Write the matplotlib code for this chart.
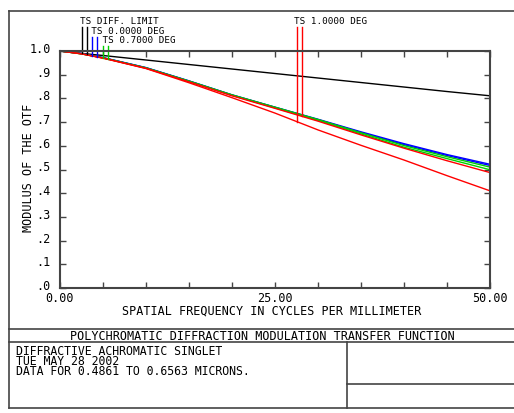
import numpy as np
import matplotlib
matplotlib.use('Agg')
import matplotlib.pyplot as plt
from matplotlib.lines import Line2D
from matplotlib.transforms import ScaledTranslation

# spatial frequency (cycles/mm) and MTF values
freq = [0, 2.5, 5, 10, 15, 20, 25, 30, 35, 40, 45, 50]
diff_limit = [1.0, 0.990, 0.981, 0.962, 0.943, 0.924, 0.905, 0.886, 0.867, 0.848, 0.829, 0.811]
ts0_t = [1.0, 0.989, 0.972, 0.930, 0.874, 0.815, 0.763, 0.712, 0.659, 0.609, 0.563, 0.522]
ts0_s = [1.0, 0.989, 0.972, 0.929, 0.873, 0.814, 0.762, 0.710, 0.656, 0.605, 0.559, 0.517]
ts07_t = [1.0, 0.988, 0.971, 0.929, 0.873, 0.815, 0.763, 0.711, 0.655, 0.601, 0.554, 0.510]
ts07_s = [1.0, 0.988, 0.971, 0.928, 0.872, 0.813, 0.760, 0.707, 0.650, 0.594, 0.546, 0.499]
ts1_s = [1.0, 0.988, 0.970, 0.927, 0.870, 0.811, 0.758, 0.704, 0.646, 0.590, 0.537, 0.487]
ts1_t = [1.0, 0.988, 0.970, 0.926, 0.866, 0.803, 0.738, 0.667, 0.602, 0.540, 0.474, 0.410]

# label pointers: colour, pointer freqs, curves they land on, top of pointer
pointers = [
    ('black', (2.56, 3.14), (diff_limit, diff_limit), 1.101),
    ('blue', (3.72, 4.30), (ts0_t, ts0_s), 1.059),
    ('#00d000', (5.00, 5.58), (ts07_t, ts07_s), 1.021),
    ('red', (27.56, 28.14), (ts1_t, ts1_s), 1.101),
]
# stacked labels share one text block (offset by leading spaces)
left_labels = ['TS DIFF. LIMIT', '  TS 0.0000 DEG', '    TS 0.7000 DEG']
right_label = 'TS 1.0000 DEG'
info_lines = ['DIFFRACTIVE ACHROMATIC SINGLET', 'TUE MAY 28 2002',
              'DATA FOR 0.4861 TO 0.6563 MICRONS.']
title = 'POLYCHROMATIC DIFFRACTION MODULATION TRANSFER FUNCTION'

W, H = 514, 414
mono = 'DejaVu Sans Mono'
fs = 8.5
fs_small = 6.7

fig = plt.figure(figsize=(W / 100, H / 100), dpi=100)
renderer = fig.canvas.get_renderer()

def fx(px):
    return px / W

def fy(py):
    return 1 - py / H

def hline(x0, x1, y, lw=1.2, c='#444444'):
    fig.add_artist(Line2D([fx(x0), fx(x1)], [fy(y), fy(y)], color=c, lw=lw))

def vline(x, y0, y1, lw=1.2, c='#444444'):
    fig.add_artist(Line2D([fx(x), fx(x)], [fy(y0), fy(y1)], color=c, lw=lw))

def block(x, y_mid, lines, gap, size):
    # multi-line text, line pitch tuned to `gap` pixels
    t = fig.text(fx(x), fy(y_mid), '\n'.join(lines), ha='left', va='center',
                 family=mono, fontsize=size)
    n = len(lines)
    one = fig.text(0, 0, lines[0], family=mono, fontsize=size)
    h1 = one.get_window_extent(renderer).height
    one.remove()
    pitch = []
    for ls in (0.8, 1.2):
        t.set_linespacing(ls)
        pitch.append((t.get_window_extent(renderer).height - h1) / (n - 1))
    slope = (pitch[1] - pitch[0]) / 0.4
    t.set_linespacing(0.8 + (gap - pitch[0]) / slope)
    return t

# frame and title block
hline(9, 520, 12)
hline(9, 520, 409)
vline(9, 12, 409)
hline(9, 520, 330)
hline(9, 520, 343)
vline(347, 343, 409)
hline(347, 520, 385)

fig.text(fx(262), fy(337), title, ha='center', va='center', family=mono, fontsize=fs)
block(16, 361.5, info_lines, 9.6, 8.3)

ax = fig.add_axes([fx(60), fy(289), fx(430), 237 / H])

ax.plot(freq, diff_limit, color='black', lw=1.0)
ax.plot(freq, ts0_t, color='blue', lw=1.0)
ax.plot(freq, ts0_s, color='blue', lw=1.0)
ax.plot(freq, ts07_t, color='#00d000', lw=1.0)
ax.plot(freq, ts07_s, color='#00d000', lw=1.0)
ax.plot(freq, ts1_s, color='red', lw=1.0)
ax.plot(freq, ts1_t, color='red', lw=1.0)

for c, xs, curves, top in pointers:
    for x, curve in zip(xs, curves):
        ax.plot([x, x], [np.interp(x, freq, curve), top], color=c, lw=1.0, clip_on=False)

block(79.5, 31, left_labels, 9.7, fs_small)
fig.text(fx(294.5), fy(21), right_label, ha='left', va='center', family=mono,
         fontsize=fs_small)

ax.set_xlim(0, 50)
ax.set_ylim(0, 1.0)
ax.set_xticks(np.arange(0, 51, 5))
ax.set_xticklabels(['0.00', '', '', '', '', '25.00', '', '', '', '', '50.00'],
                   family=mono, fontsize=fs)
ax.set_yticks(np.arange(0, 1.01, 0.1))
ax.set_yticklabels(['.0', '.1', '.2', '.3', '.4', '.5', '.6', '.7', '.8', '.9', '1.0'],
                   family=mono, fontsize=fs)
ax.tick_params(direction='in', top=True, right=True, length=4, width=1.0,
               color='#444444')
ax.tick_params(axis='x', pad=2.5)
ax.tick_params(axis='y', pad=6.5)
# y labels sit a little above their ticks
lift = ScaledTranslation(0, 4 / 100, fig.dpi_scale_trans)
for lbl in ax.get_yticklabels():
    lbl.set_transform(lbl.get_transform() + lift)
for sp in ax.spines.values():
    sp.set_color('#444444')
    sp.set_linewidth(1.5)

ax.set_xlabel('SPATIAL FREQUENCY IN CYCLES PER MILLIMETER', family=mono, fontsize=fs)
ax.xaxis.set_label_coords(0.493, -0.093)
ax.xaxis.label.set_va('center')
ax.set_ylabel('MODULUS OF THE OTF', family=mono, fontsize=fs)
ax.yaxis.set_label_coords(-0.0744, 0.51)
ax.yaxis.label.set_va('center')

fig.savefig('out.png', dpi=100)
